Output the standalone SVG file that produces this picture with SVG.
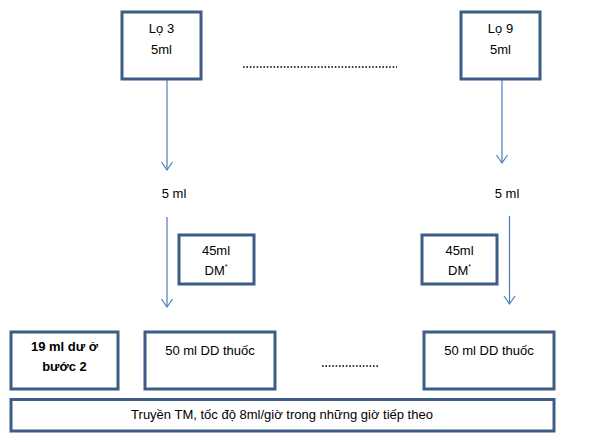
<svg xmlns="http://www.w3.org/2000/svg" width="591" height="442" viewBox="0 0 591 442">
<defs>
<marker id="arr" markerUnits="userSpaceOnUse" markerWidth="14" markerHeight="14" refX="11" refY="7" orient="auto" viewBox="0 0 14 14">
<path d="M3,1.5 L11,7 L3,12.5" fill="none" stroke="#4a7ebb" stroke-width="1.2"/>
</marker>
</defs>
<style>
.box{fill:#fff;stroke:#3d5c86;stroke-width:3}
.t{font-family:"Liberation Sans",Arial,sans-serif;font-size:13px;fill:#000;text-anchor:middle}
.b{font-weight:bold}
.ln{stroke:#4a7ebb;stroke-width:1.2;fill:none}
.dot{stroke:#000;stroke-width:1.6;stroke-dasharray:1.6 1.8;fill:none}
</style>
<rect width="591" height="442" fill="#fff"/>
<g id="connectors">
<line class="ln" x1="167" y1="80" x2="167" y2="170" marker-end="url(#arr)"/>
<line class="ln" x1="502" y1="80" x2="502" y2="163" marker-end="url(#arr)"/>
<line class="ln" x1="167" y1="217" x2="167" y2="307" marker-end="url(#arr)"/>
<line class="ln" x1="509.5" y1="216" x2="509.5" y2="304" marker-end="url(#arr)"/>
</g>
<g id="lo3">
<rect class="box" x="122" y="12" width="79" height="67"/>
<text class="t" x="161.5" y="33">Lọ 3</text>
<text class="t" x="161.5" y="54">5ml</text>
</g>
<g id="lo9">
<rect class="box" x="461" y="12" width="79" height="67"/>
<text class="t" x="500.5" y="33">Lọ 9</text>
<text class="t" x="500.5" y="54">5ml</text>
</g>
<g id="dots-top">
<line class="dot" x1="243" y1="67" x2="397" y2="67"/>
</g>
<g id="ml5-left">
<text class="t" x="174" y="198">5 ml</text>
</g>
<g id="ml5-right">
<text class="t" x="507" y="198">5 ml</text>
</g>
<g id="dm-left">
<rect class="box" x="179" y="235" width="75" height="49"/>
<text class="t" x="216" y="255">45ml</text>
<text class="t" x="216" y="275">DM<tspan font-size="7" dy="-6">*</tspan></text>
</g>
<g id="dm-right">
<rect class="box" x="422" y="235" width="75" height="49"/>
<text class="t" x="459.5" y="255">45ml</text>
<text class="t" x="459.5" y="275">DM<tspan font-size="7" dy="-6">*</tspan></text>
</g>
<g id="du19">
<rect class="box" x="11" y="332" width="107" height="57"/>
<text class="t b" x="64.5" y="351">19 ml dư ở</text>
<text class="t b" x="64.5" y="371">bước 2</text>
</g>
<g id="dd-left">
<rect class="box" x="145" y="332" width="130" height="57"/>
<text class="t" x="210" y="355">50 ml DD thuốc</text>
</g>
<g id="dots-bottom">
<line class="dot" x1="322" y1="366" x2="378" y2="366"/>
</g>
<g id="dd-right">
<rect class="box" x="424" y="332" width="130" height="57"/>
<text class="t" x="489" y="355">50 ml DD thuốc</text>
</g>
<g id="truyen">
<rect class="box" x="11" y="399.5" width="543" height="31.5"/>
<text class="t" x="282" y="418.5">Truyền TM, tốc độ 8ml/giờ trong những giờ tiếp theo</text>
</g>
</svg>
